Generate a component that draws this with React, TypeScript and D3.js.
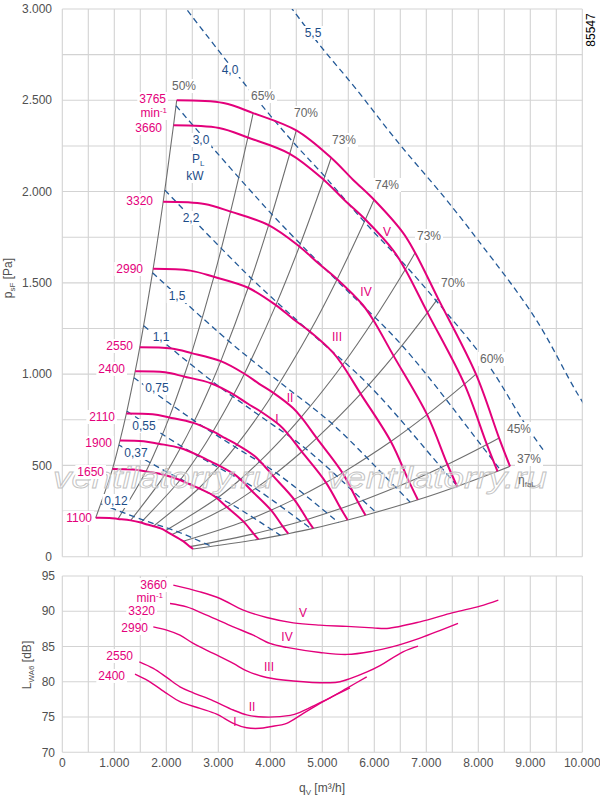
import React from 'react';
import * as d3 from 'd3';

// ---------- axis ticks ----------
const xTicks = [0, 1000, 2000, 3000, 4000, 5000, 6000, 7000, 8000, 9000, 10000];
const xTickLabels = ['0', '1.000', '2.000', '3.000', '4.000', '5.000', '6.000', '7.000', '8.000', '9.000', '10.000'];
const pTicks = [0, 500, 1000, 1500, 2000, 2500, 3000];
const pTickLabels = ['0', '500', '1.000', '1.500', '2.000', '2.500', '3.000'];
const lTicks = [70, 75, 80, 85, 90, 95];
const lTickLabels = ['70', '75', '80', '85', '90', '95'];

// ---------- speed curves [q m3/h, p Pa] ----------
const speeds = [1100, 1650, 1900, 2110, 2400, 2550, 2990, 3320, 3660, 3765];
const curve1100 = [[643,213],[906,212],[1072,207],[1315,199],[1510,187],[1633,176],[1752,167],[1914,152],[1982,142],[2111,121],[2324,85],[2454,55],[2516,42]];
const curve1650 = [[964,480],[1359,477],[1608,467],[1972,448],[2266,420],[2450,397],[2627,375],[2871,341],[2974,320],[3166,272],[3486,192],[3681,125],[3773,95]];
const curve1900 = [[1110,637],[1564,633],[1852,619],[2271,595],[2609,556],[2821,526],[3025,498],[3305,452],[3424,424],[3646,360],[4014,255],[4239,166],[4345,126]];
const curve2110 = [[1233,785],[1737,780],[2057,763],[2522,733],[2897,686],[3133,649],[3360,614],[3671,557],[3802,523],[4049,444],[4458,314],[4708,204],[4825,155]];
const curve2400 = [[1402,1016],[1976,1010],[2339,987],[2869,949],[3296,888],[3563,839],[3822,794],[4175,721],[4325,677],[4606,575],[5071,406],[5355,264],[5488,201]];
const curve2550 = [[1490,1147],[2100,1140],[2486,1115],[3048,1071],[3502,1002],[3786,947],[4060,897],[4436,814],[4595,764],[4893,649],[5388,459],[5689,298],[5831,227]];
const curve2990 = [[1747,1577],[2462,1567],[2915,1533],[3574,1473],[4106,1378],[4439,1302],[4761,1233],[5202,1119],[5388,1050],[5738,892],[6318,631],[6671,410],[6838,312]];
const curve3320 = [[1940,1944],[2734,1932],[3236,1890],[3968,1816],[4559,1699],[4929,1606],[5286,1520],[5776,1380],[5983,1295],[6371,1100],[7015,778],[7407,505],[7592,385]];
const curve3660 = [[2139,2363],[3014,2348],[3568,2296],[4374,2207],[5026,2065],[5434,1951],[5828,1847],[6367,1677],[6596,1573],[7023,1337],[7733,945],[8166,614],[8370,468]];
const curve3765 = [[2200,2500],[3100,2485],[3670,2430],[4500,2335],[5170,2185],[5590,2065],[5995,1955],[6550,1775],[6785,1665],[7225,1415],[7955,1000],[8400,650],[8610,495]];
const speedCurves = [curve1100, curve1650, curve1900, curve2110, curve2400, curve2550, curve2990, curve3320, curve3660, curve3765];

// ---------- efficiency lines: point index on every speed curve ----------
const effIdx = [0, 2, 3, 4, 6, 8, 9, 10, 11, 12];
const effLabels = ['50%', '65%', '70%', '73%', '74%', '73%', '70%', '60%', '45%', '37%'];

// ---------- shaft power lines [q, p] ----------
const powerLabels = ['0,12', '0,37', '0,55', '0,75', '1,1', '1,5', '2,2', '3,0', '4,0', '5,5'];
const power012 = [[748,289],[1379,219],[1805,177],[2235,135],[2764,70],[2882,55]];
const power037 = [[1088,612],[2007,465],[2626,375],[3253,287],[4023,149],[4194,117]];
const power055 = [[1242,797],[2291,605],[2998,489],[3712,374],[4591,194],[4787,153]];
const power075 = [[1378,980],[2541,744],[3324,601],[4115,459],[5091,239],[5310,188]];
const power110 = [[1565,1265],[2886,960],[3777,776],[4677,593],[5783,308],[6031,243]];
const power150 = [[1735,1555],[3200,1181],[4188,954],[5186,729],[6413,379],[6689,299]];
const power220 = [[1972,2008],[3636,1524],[4758,1232],[5892,941],[7287,489],[7599,386]];
const power300 = [[2187,2470],[4032,1875],[5276,1514],[6534,1157],[8081,602],[8427,474]];
const power400 = [[2407,2992],[3730,2510],[4438,2271],[5047,2083],[5807,1835],[6624,1587],[7191,1402],[8177,1057],[8894,729],[9275,574]];
const power550 = [[4148,3104],[4935,2808],[5613,2575],[6458,2269],[7366,1962],[7996,1733],[9093,1307],[9890,901],[10314,710]];
const powerLines = [power012, power037, power055, power075, power110, power150, power220, power300, power400, power550];

// ---------- sound power [q, dB] ----------
const romanLabels = ['I', 'II', 'III', 'IV', 'V'];
const noiseSpeeds = [2400, 2550, 2990, 3320, 3660];
const noise2400 = [[1398,81.09],[1654,80.14],[2008,78.36],[2263,77.17],[2648,76.23],[2969,75.42],[3288,74.11],[3546,73.48],[3802,73.4],[3994,73.63],[4315,74.11],[4635,75.52],[4956,76.94],[5277,78.22],[5533,79.15]];
const noise2550 = [[1481,82.83],[1750,81.9],[2008,80.62],[2263,79.29],[2519,78.44],[2904,77.3],[3288,76.0],[3546,75.3],[3865,75.0],[4383,75.24],[4571,75.67],[4892,76.8],[5148,77.73],[5469,79.07],[5854,80.71]];
const noise2990 = [[1750,87.79],[2008,87.32],[2263,86.61],[2519,85.44],[2904,84.02],[3288,82.6],[3546,81.55],[3931,80.6],[4442,80.12],[5148,79.86],[5340,80.0],[5533,80.45],[5860,81.4],[6110,82.3],[6552,84.25],[6840,85.06]];
const noise3320 = [[2071,91.1],[2392,90.62],[2777,89.45],[3288,87.79],[3673,86.61],[3994,85.44],[4315,84.87],[4956,84.16],[5475,83.88],[5975,84.35],[6302,84.87],[6879,86.2],[7610,88.27]];
const noise3660 = [[2135,93.7],[2648,92.75],[3033,91.81],[3481,90.16],[3931,89.12],[4442,88.36],[4956,88.03],[5475,87.85],[5975,87.65],[6244,87.56],[6879,88.5],[7513,89.8],[8033,90.72],[8385,91.57]];
const noiseCurves = [noise2400, noise2550, noise2990, noise3320, noise3660];

// ---------- styling ----------
const FONT = "'Liberation Sans', Arial, Helvetica, sans-serif";
const PINK = '#e3007b';
const BLUE = '#245a98';
const BLUE_TXT = '#1d4d88';
const GRAY_LINE = '#6f6f6f';
const GRID = '#d3d3d3';
const TXT = '#505050';
const EFF_TXT = '#666666';

function estW(s: string, fs: number) {
  let w = 0;
  for (const c of s) {
    if ('0123456789'.includes(c)) w += 0.556;
    else if ('.,Iil'.includes(c)) w += 0.278;
    else if (c === '%') w += 0.889;
    else if (c === 'V') w += 0.667;
    else if (c === 'm' || c === 'W') w += 0.85;
    else w += 0.556;
  }
  return w * fs;
}

function Lbl(props: { x: number; y: number; text: string; anchor?: 'start' | 'middle' | 'end'; color: string; fs?: number; bg?: boolean }) {
  const { x, y, text, color } = props;
  const anchor = props.anchor || 'middle';
  const fs = props.fs || 12;
  const bg = props.bg !== false;
  const w = estW(text, fs);
  const x0 = anchor === 'end' ? x - w : anchor === 'middle' ? x - w / 2 : x;
  return (
    <g>
      {bg && <rect x={x0 - 2} y={y - fs * 0.5 - 1} width={w + 4} height={fs + 2} fill="#fff" />}
      <text x={x} y={y} dy="0.35em" textAnchor={anchor} fill={color} fontSize={fs} fontFamily={FONT}>{text}</text>
    </g>
  );
}

export default function App() {
  const x = d3.scaleLinear().domain([0, 10000]).range([62.3, 582.3]);
  const yP = d3.scaleLinear().domain([0, 3000]).range([556.7, 9]);
  const yL = d3.scaleLinear().domain([70, 95]).range([752.3, 576]);

  const lineP = d3.line<number[]>().x(d => x(d[0])).y(d => yP(d[1])).curve(d3.curveCatmullRom.alpha(0.5));
  const lineL = d3.line<number[]>().x(d => x(d[0])).y(d => yL(d[1])).curve(d3.curveCatmullRom.alpha(0.5));

  const vGrid = d3.range(0, 10001, 500);
  const hGridP = d3.range(0, 3001, 250);

  const effLines = effIdx.map(i => speedCurves.map(c => c[i]));

  // label layout (pixel positions)
  const effLabelPos = [[184,86],[263,96],[306,113],[344,140],[387,185],[429,236],[453,283],[492,359],[519,429],[529,459]];
  const powerLabelPos = [[116,501],[136,453],[144,426],[157,388],[161,337],[177,296],[191,218],[201,140],[230,70],[313,33]];
  const speedLabelPos = [[92,518],[104,472],[112,443],[115,417],[125,369],[133,346],[143,269],[153,201],[162,128],[166,99]];
  const romanUpperPos = [[277,419],[290,398],[337,337],[366,292],[387,232]];
  const romanLowerPos = [[235,722],[252,707],[269,667],[287,637],[303,613]];
  const noiseLabelPos = [[125,676],[133,656],[148,628],[155,611],[167,585]];

  return (
    <svg width={600} height={796} style={{ position: 'absolute', left: 0, top: 0, background: '#fff' }} fontFamily={FONT}>
      <defs>
        <clipPath id="plotClip">
          <rect x={x(0)} y={yP(3000)} width={x(10000) - x(0)} height={yP(0) - yP(3000)} />
        </clipPath>
      </defs>
      <rect x={0} y={0} width={600} height={796} fill="#fff" />

      {/* ===== upper chart grid ===== */}
      <g stroke={GRID} strokeWidth={1.1}>
        {vGrid.map(v => <line key={'vu' + v} x1={x(v)} x2={x(v)} y1={yP(0)} y2={yP(3000)} />)}
        {hGridP.map(v => <line key={'hu' + v} x1={x(0)} x2={x(10000)} y1={yP(v)} y2={yP(v)} />)}
      </g>
      {pTicks.map((v, i) => (
        <text key={'pt' + v} x={52} y={yP(v)} dy="0.35em" textAnchor="end" fontSize={12} fill={TXT}>{pTickLabels[i]}</text>
      ))}
      <text transform="translate(12,278) rotate(-90)" textAnchor="middle" fontSize={12} fill={TXT}>
        p<tspan fontSize={8} dy={3}>sF</tspan><tspan dy={-3}> [Pa]</tspan>
      </text>

      <g clipPath="url(#plotClip)">
        {effLines.map((pts, i) => (
          <path key={'eff' + i} d={lineP(pts) || ''} fill="none" stroke={GRAY_LINE} strokeWidth={1.1} />
        ))}
        {powerLines.map((pts, i) => (
          <path key={'pw' + i} d={lineP(pts) || ''} fill="none" stroke={BLUE} strokeWidth={1.3} strokeDasharray="6 4" />
        ))}
        {speedCurves.map((pts, i) => (
          <path key={'sp' + speeds[i]} d={lineP(pts) || ''} fill="none" stroke={PINK} strokeWidth={2} />
        ))}
      </g>

      {/* watermark (behind labels) */}
      <g fontStyle="italic" fontSize={29} fill="#ffffff" fillOpacity={0.35} stroke="#c2c2c2" strokeWidth={0.8}>
        <text x={53} y={488} textLength={220} lengthAdjust="spacingAndGlyphs">ventilatorry.ru</text>
        <text x={327} y={488} textLength={220} lengthAdjust="spacingAndGlyphs">ventilatorry.ru</text>
      </g>

      {effLabels.map((t, i) => (
        <Lbl key={'el' + i} x={effLabelPos[i][0]} y={effLabelPos[i][1]} text={t} color={EFF_TXT} />
      ))}
      <text x={518} y={480} dy="0.35em" fontSize={12} fill={EFF_TXT}>η<tspan fontSize={8} dy={3}>faL</tspan></text>

      {powerLabels.map((t, i) => (
        <Lbl key={'pl' + i} x={powerLabelPos[i][0]} y={powerLabelPos[i][1]} text={t} color={BLUE_TXT} />
      ))}
      <rect x={189} y={151} width={18} height={32} fill="#fff" />
      <text x={192} y={159} dy="0.35em" fontSize={12} fill={BLUE_TXT}>P<tspan fontSize={8} dy={3}>L</tspan></text>
      <text x={195} y={176} dy="0.35em" textAnchor="middle" fontSize={12} fill={BLUE_TXT}>kW</text>

      {speeds.map((s, i) => (
        <Lbl key={'sl' + s} x={speedLabelPos[i][0]} y={speedLabelPos[i][1]} text={String(s)} anchor="end" color={PINK} />
      ))}
      <rect x={139} y={105} width={30} height={15} fill="#fff" />
      <text x={167} y={113} dy="0.35em" textAnchor="end" fontSize={12} fill={PINK}>min<tspan fontSize={8} dy={-4}>-1</tspan></text>

      {romanLabels.map((t, i) => (
        <text key={'ru' + t} x={romanUpperPos[i][0]} y={romanUpperPos[i][1]} dy="0.35em" textAnchor="middle" fontSize={12} fill={PINK}>{t}</text>
      ))}

      <text transform="translate(595,30) rotate(-90)" textAnchor="middle" fontSize={12} fill="#000">85547</text>

      {/* ===== lower chart ===== */}
      <g stroke={GRID} strokeWidth={1.1}>
        {vGrid.map(v => <line key={'vl' + v} x1={x(v)} x2={x(v)} y1={yL(70)} y2={yL(95)} />)}
        {lTicks.map(v => <line key={'hl' + v} x1={x(0)} x2={x(10000)} y1={yL(v)} y2={yL(v)} />)}
      </g>
      {lTicks.map((v, i) => (
        <text key={'lt' + v} x={55} y={yL(v)} dy="0.35em" textAnchor="end" fontSize={12} fill={TXT}>{lTickLabels[i]}</text>
      ))}
      {xTicks.map((v, i) => (
        <text key={'xt' + v} x={x(v)} y={763} dy="0.35em" textAnchor="middle" fontSize={12} fill={TXT}>{xTickLabels[i]}</text>
      ))}
      <text transform="translate(31,665) rotate(-90)" textAnchor="middle" fontSize={12} fill={TXT}>
        L<tspan fontSize={8} dy={3}>WA6</tspan><tspan dy={-3}> [dB]</tspan>
      </text>
      <text x={322} y={788} dy="0.35em" textAnchor="middle" fontSize={12} fill={TXT}>
        q<tspan fontSize={8} dy={3}>V</tspan><tspan dy={-3}> [m³/h]</tspan>
      </text>

      {noiseCurves.map((pts, i) => (
        <path key={'nc' + i} d={lineL(pts) || ''} fill="none" stroke={PINK} strokeWidth={1.4} />
      ))}
      {noiseSpeeds.map((s, i) => (
        <Lbl key={'nl' + s} x={noiseLabelPos[i][0]} y={noiseLabelPos[i][1]} text={String(s)} anchor="end" color={PINK} />
      ))}
      <rect x={135} y={592} width={30} height={12} fill="#fff" />
      <text x={163} y={598} dy="0.35em" textAnchor="end" fontSize={12} fill={PINK}>min<tspan fontSize={8} dy={-4}>-1</tspan></text>
      {romanLabels.map((t, i) => (
        <text key={'rl' + t} x={romanLowerPos[i][0]} y={romanLowerPos[i][1]} dy="0.35em" textAnchor="middle" fontSize={12} fill={PINK}>{t}</text>
      ))}
    </svg>
  );
}
